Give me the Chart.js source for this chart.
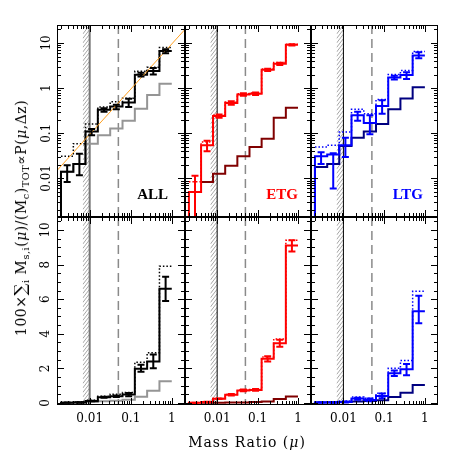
<!DOCTYPE html>
<html>
<head>
<meta charset="utf-8">
<title>Mass ratio distribution</title>
<script src="https://cdn.jsdelivr.net/npm/chart.js@4.4.1/dist/chart.umd.min.js"></script>
<style>
  body { margin: 0; background: #fff; }
  #wrap { position: relative; width: 463px; height: 463px; overflow: hidden; background: #fff; }
  #wrap canvas { position: absolute; }
  .tag { position: absolute; z-index: 2; font: bold 15px 'Liberation Serif', serif; line-height: 15px; }
  .ytitle { position: absolute; z-index: 2; left: 20px; top: 218px; transform: translate(-50%, -50%) rotate(-90deg);
            white-space: nowrap; font: 14px 'DejaVu Serif', serif; letter-spacing: 0.5px; }
  .xtitle { position: absolute; z-index: 2; left: 247px; top: 442px; transform: translate(-50%, -50%);
            white-space: nowrap; font: 14px 'DejaVu Serif', serif; letter-spacing: 1px; }
  .ytitle sub { font-size: 0.7em; vertical-align: -0.3em; line-height: 0; }
  .sig { font-size: 1.2em; }
</style>
</head>
<body>
<div id="wrap">
  <div class="ytitle">100×<span class="sig">∑</span><sub>i</sub> M<sub>s,i</sub>(<i>μ</i>)/(M<sub>c</sub>)<sub>TOT</sub>∝P(<i>μ</i>,Δz)</div>
  <div class="xtitle">Mass Ratio (<i>μ</i>)</div>
  <div class="tag" style="right:295px;top:187px;color:#000">ALL</div>
  <div class="tag" style="right:165px;top:187px;color:#ff0000">ETG</div>
  <div class="tag" style="right:40px;top:187px;color:#0000ff">LTG</div>
</div>
<script>
// bin edges in mass ratio (0.3 dex bins)
const binEdges = [0.002, 0.004, 0.0079, 0.0158, 0.0316, 0.0631, 0.126, 0.251, 0.501, 1.0];

// ALL
const allMain   = [0.014, 0.021, 0.11, 0.33, 0.39, 0.48, 1.98, 2.4, 6.6];
const allDotted = [0.031, 0.059, 0.16, 0.38, 0.5, 0.6, 2.35, 2.9, 7.9];
const allErrLo  = [0.0083, 0.0117, 0.09, 0.30, 0.34, 0.38, 1.8, 2.0, 5.9];
const allErrHi  = [0.0195, 0.035, 0.125, 0.36, 0.43, 0.58, 2.2, 2.8, 7.3];
const allGray   = [0.014, 0.021, 0.059, 0.09, 0.127, 0.19, 0.35, 0.7, 1.25];

// ETG
const etgMain   = [0.005, 0.054, 0.24, 0.47, 0.72, 0.75, 2.55, 3.45, 9.1];
const etgDotted = [0.0085, 0.064, 0.255, 0.49, 0.75, 0.78, 2.65, 3.7, 9.4];
const etgErrLo  = [0.0005, 0.04, 0.22, 0.43, 0.68, 0.70, 2.4, 3.25, 8.75];
const etgErrHi  = [0.0115, 0.068, 0.26, 0.51, 0.77, 0.80, 2.7, 3.65, 9.4];
const etgDark   = [null, 0.0083, 0.0127, 0.019, 0.031, 0.05, 0.076, 0.22, 0.37];

// LTG
const ltgMain   = [0.031, 0.034, 0.054, 0.25, 0.17, 0.40, 1.72, 1.95, 5.3];
const ltgDotted = [0.05, 0.054, 0.107, 0.34, 0.27, 0.56, 2.0, 2.45, 6.45];
const ltgErrLo  = [0.021, 0.006, 0.03, 0.19, 0.095, 0.27, 1.55, 1.6, 4.6];
const ltgErrHi  = [0.038, 0.036, 0.08, 0.30, 0.25, 0.54, 1.88, 2.25, 6.2];
const ltgDark   = [0.018, 0.021, 0.052, 0.08, 0.11, 0.16, 0.34, 0.59, 1.04];

// power-law guide in the ALL panel (end points)
const guideMu  = [0.0016, 2.1];
const guideVal = [0.015, 20];

// reference marks
const hatchMu = [0.0068, 0.01];
const limitMu = 0.01;
const dashMu  = 0.05;

// tick labels
const xTickLabels    = [0.01, 0.1, 1];
const yLogTickLabels = [0.01, 0.1, 1, 10];
const yLinTickLabels = [0, 2, 4, 6, 8, 10];

// axis ranges
const xRange    = [0.0016, 2.1];
const yLogRange = [0.0014, 25];
const yLinRange = [-0.12, 10.75];

// panel geometry (px)
const plotX = [[57, 185], [185, 311], [311, 438]];
const plotY = [[25, 217], [217, 405]];

const columns = [
    { main: allMain, dotted: allDotted, other: allGray, lo: allErrLo, hi: allErrHi,
      color: '#000000', otherColor: '#959595', limitColor: '#777777', limitWidth: 2 },
    { main: etgMain, dotted: etgDotted, other: etgDark, lo: etgErrLo, hi: etgErrHi,
      color: '#ff0000', otherColor: '#800000', limitColor: '#000000', limitWidth: 1 },
    { main: ltgMain, dotted: ltgDotted, other: ltgDark, lo: ltgErrLo, hi: ltgErrHi,
      color: '#0000ff', otherColor: '#000080', limitColor: '#000000', limitWidth: 1 }
];

Chart.defaults.font.family = "'DejaVu Serif', serif";
Chart.defaults.color = '#000';

function labelFor(v, list) {
    const hit = list.find(t => (t === 0 ? Math.abs(v) < 1e-9 : Math.abs(v - t) <= 1e-6 * Math.abs(t)));
    return hit === undefined ? '' : String(hit);
}

function logMarks(range) {
    const marks = [];
    for (let d = Math.floor(Math.log10(range[0])); d <= Math.ceil(Math.log10(range[1])); d++) {
        for (let k = 1; k <= 9; k++) {
            const v = k * Math.pow(10, d);
            if (v >= range[0] && v <= range[1]) marks.push({ v: v, major: k === 1 });
        }
    }
    return marks;
}

function linMarks(range) {
    const marks = [];
    for (let i = 0; i * 0.5 <= range[1]; i++) marks.push({ v: i * 0.5, major: i % 4 === 0 });
    return marks;
}

// histogram outline as step points at the bin edges
function stepPoints(vals, floorVal) {
    const pts = [];
    if (floorVal !== undefined && vals[0] !== null) pts.push({ x: binEdges[0], y: floorVal });
    vals.forEach((v, i) => pts.push({ x: binEdges[i], y: v }));
    pts.push({ x: binEdges[binEdges.length - 1], y: vals[vals.length - 1] });
    return pts;
}

// keep the plot area exactly where the frame is
function fixBox(s, w, h) {
    if (w !== null) s.width = w;
    if (h !== null) s.height = h;
    s.paddingLeft = 0; s.paddingRight = 0; s.paddingTop = 0; s.paddingBottom = 0;
}

function decorPlugin(col, row) {
    const c = columns[col];
    return {
        id: 'decor',
        beforeDatasetsDraw(chart) {
            const { ctx, chartArea: a, scales: { x } } = chart;
            ctx.save();
            ctx.beginPath(); ctx.rect(a.left, a.top, a.width, a.height); ctx.clip();
            // hatched strip below the completeness limit
            const h0 = x.getPixelForValue(hatchMu[0]), h1 = x.getPixelForValue(hatchMu[1]);
            ctx.save();
            ctx.beginPath(); ctx.rect(h0, a.top, h1 - h0, a.height); ctx.clip();
            ctx.strokeStyle = '#8f8f8f'; ctx.lineWidth = 0.8;
            const rise = (h1 - h0) * 1.3;
            ctx.beginPath();
            for (let yy = a.top - rise; yy < a.bottom + rise; yy += 4.5) {
                ctx.moveTo(h0, yy + rise); ctx.lineTo(h1, yy);
            }
            ctx.stroke();
            ctx.restore();
            // solid limit line
            const xl = x.getPixelForValue(limitMu);
            ctx.strokeStyle = c.limitColor; ctx.lineWidth = c.limitWidth;
            ctx.beginPath(); ctx.moveTo(xl, a.top); ctx.lineTo(xl, a.bottom); ctx.stroke();
            // dashed line
            const xd = x.getPixelForValue(dashMu);
            ctx.strokeStyle = '#8a8a8a'; ctx.lineWidth = 1.5; ctx.setLineDash([9, 5]);
            ctx.beginPath(); ctx.moveTo(xd, a.top); ctx.lineTo(xd, a.bottom); ctx.stroke();
            ctx.restore();
        },
        afterDatasetsDraw(chart) {
            const { ctx, chartArea: a, scales: { x, y } } = chart;
            ctx.save();
            ctx.beginPath(); ctx.rect(a.left, a.top, a.width, a.height); ctx.clip();
            ctx.strokeStyle = c.color; ctx.lineWidth = 2;
            c.lo.forEach((lo, i) => {
                const xc = x.getPixelForValue(Math.sqrt(binEdges[i] * binEdges[i + 1]));
                const yl = y.getPixelForValue(lo);
                const yh = y.getPixelForValue(c.hi[i]);
                ctx.beginPath();
                ctx.moveTo(xc, yl); ctx.lineTo(xc, yh);
                ctx.moveTo(xc - 3.5, yl); ctx.lineTo(xc + 3.5, yl);
                ctx.moveTo(xc - 3.5, yh); ctx.lineTo(xc + 3.5, yh);
                ctx.stroke();
            });
            ctx.restore();
        },
        afterDraw(chart) {
            const { ctx, chartArea: a, scales: { x, y } } = chart;
            ctx.save();
            ctx.strokeStyle = '#000'; ctx.lineWidth = 1;
            ctx.strokeRect(a.left + 0.5, a.top + 0.5, a.width - 1, a.height - 1);
            ctx.beginPath();
            logMarks(xRange).forEach(t => {
                const px = Math.round(x.getPixelForValue(t.v)) + 0.5;
                const len = t.major ? 7 : 4;
                ctx.moveTo(px, a.top); ctx.lineTo(px, a.top + len);
                ctx.moveTo(px, a.bottom); ctx.lineTo(px, a.bottom - len);
            });
            const yMarks = row === 0 ? logMarks(yLogRange) : linMarks(yLinRange);
            yMarks.forEach(t => {
                const py = Math.round(y.getPixelForValue(t.v)) + 0.5;
                const len = t.major ? 7 : 4;
                ctx.moveTo(a.left, py); ctx.lineTo(a.left + len, py);
                ctx.moveTo(a.right, py); ctx.lineTo(a.right - len, py);
            });
            ctx.stroke();
            ctx.restore();
        }
    };
}

function buildPanel(row, col) {
    const c = columns[col];
    const isLog = row === 0;
    const floorVal = isLog ? 1e-4 : -1;

    const left = col === 0 ? 0 : plotX[col][0];
    const top = plotY[row][0];
    const width = plotX[col][1] - left;
    const height = (row === 1 ? 463 : plotY[row][1]) - top;

    const canvas = document.createElement('canvas');
    canvas.width = width; canvas.height = height;
    canvas.style.left = left + 'px'; canvas.style.top = top + 'px';
    canvas.style.width = width + 'px'; canvas.style.height = height + 'px';
    document.getElementById('wrap').appendChild(canvas);

    const datasets = [];
    if (row === 0 && col === 0) {
        datasets.push({
            data: guideMu.map((m, i) => ({ x: m, y: guideVal[i] })),
            borderColor: '#ffa020', borderWidth: 1, clip: 0
        });
    }
    datasets.push({ data: stepPoints(c.main, floorVal), borderColor: c.color, borderWidth: 2, stepped: 'before', clip: 0 });
    datasets.push({ data: stepPoints(c.dotted), borderColor: c.color, borderWidth: 1.5, borderDash: [1.5, 2],
                    stepped: 'before', clip: 0 });
    datasets.push({ data: stepPoints(c.other, floorVal), borderColor: c.otherColor, borderWidth: 2, stepped: 'before', clip: 0 });

    const tickFont = { family: "'DejaVu Serif', serif", size: 12 };

    const yScale = isLog ? {
        type: 'logarithmic', min: yLogRange[0], max: yLogRange[1],
        ticks: { autoSkip: false, minRotation: 90, maxRotation: 90, crossAlign: 'center', padding: -3,
                 font: tickFont, color: '#000', callback: v => labelFor(v, yLogTickLabels) }
    } : {
        type: 'linear', min: yLinRange[0], max: yLinRange[1],
        ticks: { autoSkip: false, includeBounds: false, stepSize: 1, minRotation: 90, maxRotation: 90,
                 crossAlign: 'center', padding: 3,
                 font: tickFont, color: '#000', callback: v => labelFor(v, yLinTickLabels) }
    };
    yScale.display = col === 0;
    yScale.grid = { display: false, drawTicks: false };
    yScale.border = { display: false };
    yScale.afterFit = s => fixBox(s, col === 0 ? plotX[0][0] : 0, null);

    new Chart(canvas, {
        type: 'line',
        data: { datasets: datasets },
        options: {
            responsive: false,
            animation: false,
            events: [],
            layout: { padding: 0 },
            elements: { point: { radius: 0 }, line: { tension: 0 } },
            plugins: { legend: { display: false }, tooltip: { enabled: false } },
            scales: {
                x: {
                    type: 'logarithmic', min: xRange[0], max: xRange[1],
                    display: row === 1,
                    grid: { display: false, drawTicks: false },
                    border: { display: false },
                    ticks: { autoSkip: false, minRotation: 0, maxRotation: 0, padding: 7,
                             font: tickFont, color: '#000', callback: v => labelFor(v, xTickLabels) },
                    afterFit: s => fixBox(s, null, row === 1 ? 463 - plotY[1][1] : 0)
                },
                y: yScale
            }
        },
        plugins: [decorPlugin(col, row)]
    });
}

for (let r = 0; r < 2; r++) {
    for (let c = 0; c < 3; c++) buildPanel(r, c);
}
</script>
</body>
</html>
